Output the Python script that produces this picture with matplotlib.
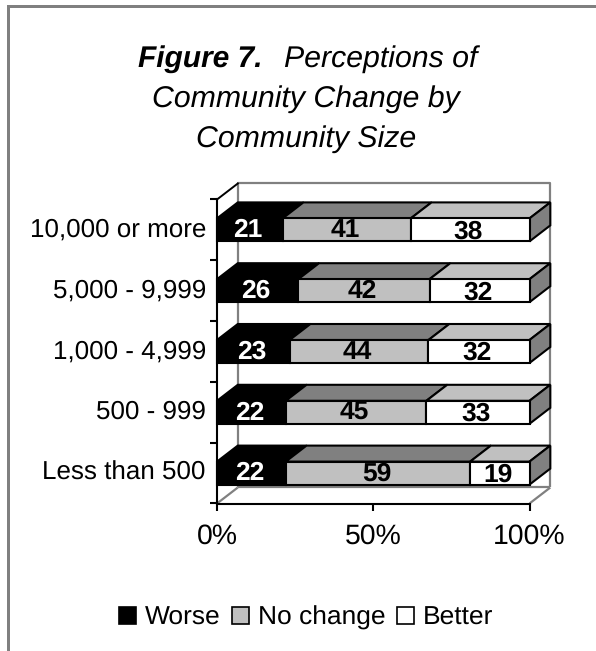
import matplotlib
matplotlib.use("Agg")
import matplotlib.pyplot as plt
from matplotlib.patches import Polygon, Rectangle, Patch
from matplotlib.transforms import ScaledTranslation
import numpy as np

plt.rcParams['font.family'] = ['Liberation Sans', 'DejaVu Sans']
plt.rcParams['text.hinting'] = 'no_hinting'

categories = ["Less than 500", "500 - 999", "1,000 - 4,999", "5,000 - 9,999", "10,000 or more"]
worse = [22, 22, 23, 26, 21]
no_change = [59, 45, 44, 42, 41]
better = [19, 33, 32, 32, 38]
series_names = ["Worse", "No change", "Better"]
x_ticks = [0, 50, 100]
x_labels = ["0%", "50%", "100%"]

W, H = 596, 651
fig = plt.figure(figsize=(W / 100, H / 100), dpi=100, facecolor="white")
L, R, T, B = 217.0, 529.5, 199.5, 503.5
ax = fig.add_axes([L / W, 1 - B / H, (R - L) / W, (B - T) / H], facecolor="none")
ax.set_xlim(0, 100)
ax.set_ylim(-0.5, 4.5)

DX = 20.8 / (R - L) * 100
DY = 16.0 / ((B - T) / 5)
BAR_H = 23.0 / ((B - T) / 5)
GRAY = "#808080"
LIGHT = "#c0c0c0"

# outer frame (top and left only)
fig.add_artist(Rectangle((7 / W, 0), 3 / W, 1 - 5 / H, transform=fig.transFigure, color=GRAY, lw=0))
fig.add_artist(Rectangle((7 / W, 1 - 8 / H), 1 - 7 / W, 3 / H, transform=fig.transFigure, color=GRAY, lw=0))

# 3D walls
wall = dict(color=GRAY, lw=1.6, clip_on=False, zorder=1, solid_capstyle="butt")
ax.plot([DX, DX, 100 + DX, 100 + DX], [-0.5 + DY, 4.5 + DY, 4.5 + DY, -0.5 + DY], **wall)
ax.plot([DX, 100 + DX], [-0.5 + DY, -0.5 + DY], **wall)
ax.plot([0, DX], [-0.5, -0.5 + DY], **wall)
ax.plot([100, 100 + DX], [-0.5, -0.5 + DY], **wall)
ax.plot([0, DX], [4.5, 4.5 + DY], color="black", lw=1.4, clip_on=False, zorder=1)

# normalised stacked bars (100 % stacked)
vals = np.array([worse, no_change, better], dtype=float)
pct = vals / vals.sum(axis=0) * 100
front = ["black", LIGHT, "white"]
top = ["black", GRAY, LIGHT]
txt = ["white", "black", "black"]
edge = dict(edgecolor="black", linewidth=1.5, clip_on=False, joinstyle="miter")

y = np.arange(len(categories))
for i in y:
    left = 0.0
    hb = BAR_H / 2
    for s in range(3):
        w = pct[s, i]
        ax.add_patch(Polygon([(left, i + hb), (left + DX, i + hb + DY), (left + w + DX, i + hb + DY),
                              (left + w, i + hb)], facecolor=top[s], zorder=3, **edge))
        ax.barh(i, w, left=left, height=BAR_H, color=front[s], zorder=4, **edge)
        ax.text(left + w / 2 - 0.5, i - 0.01 - (0.02 if s == 2 else 0), str(int(vals[s, i])), ha="center", va="center",
                color=txt[s], fontsize=19, fontweight="bold", zorder=6)
        left += w
    ax.add_patch(Polygon([(100, i - hb), (100, i + hb), (100 + DX, i + hb + DY), (100 + DX, i - hb + DY)],
                         facecolor=GRAY, zorder=3, **edge))

# axes
for s in ("top", "right"):
    ax.spines[s].set_visible(False)
for s in ("left", "bottom"):
    ax.spines[s].set_linewidth(1.5)
ax.set_xticks(x_ticks)
ax.set_xticklabels(x_labels, fontsize=20.4)
ax.tick_params(axis="x", length=5, width=1.5, pad=9.5, color="black", labelcolor="black")
ax.set_yticks(y)
ax.set_yticklabels(categories, fontsize=18.7)
ax.tick_params(axis="y", which="major", length=0, pad=8, labelcolor="black")
ax.set_yticks(np.arange(-0.5, 5), minor=True)
ax.tick_params(axis="y", which="minor", length=5, width=1.5, color="black")
up = ScaledTranslation(0, 2.5 / 100, fig.dpi_scale_trans)
for lab in ax.get_yticklabels():
    lab.set_transform(lab.get_transform() + up)

# title
cx = 306
fig.text(138 / W, 1 - 67 / H, "Figure 7.", fontsize=21.5, fontweight="bold", style="italic", ha="left", va="baseline")
fig.text(284 / W, 1 - 67 / H, "Perceptions of", fontsize=21.8, style="italic", ha="left", va="baseline")
fig.text(cx / W, 1 - 106.5 / H, "Community Change by", fontsize=21.8, style="italic", ha="center", va="baseline")
fig.text(cx / W, 1 - 146.5 / H, "Community Size", fontsize=21.8, style="italic", ha="center", va="baseline")

# legend
handles = [Patch(facecolor=c, edgecolor="black", linewidth=1.2) for c in front]
fig.legend(handles, series_names, ncol=3, loc="center", bbox_to_anchor=(306 / W, 1 - 618 / H),
           frameon=False, fontsize=19, handlelength=0.64, handleheight=0.64,
           handletextpad=0.32, columnspacing=0.45, borderpad=0, labelcolor="black")

fig.savefig("out.png", dpi=100, facecolor="white")
